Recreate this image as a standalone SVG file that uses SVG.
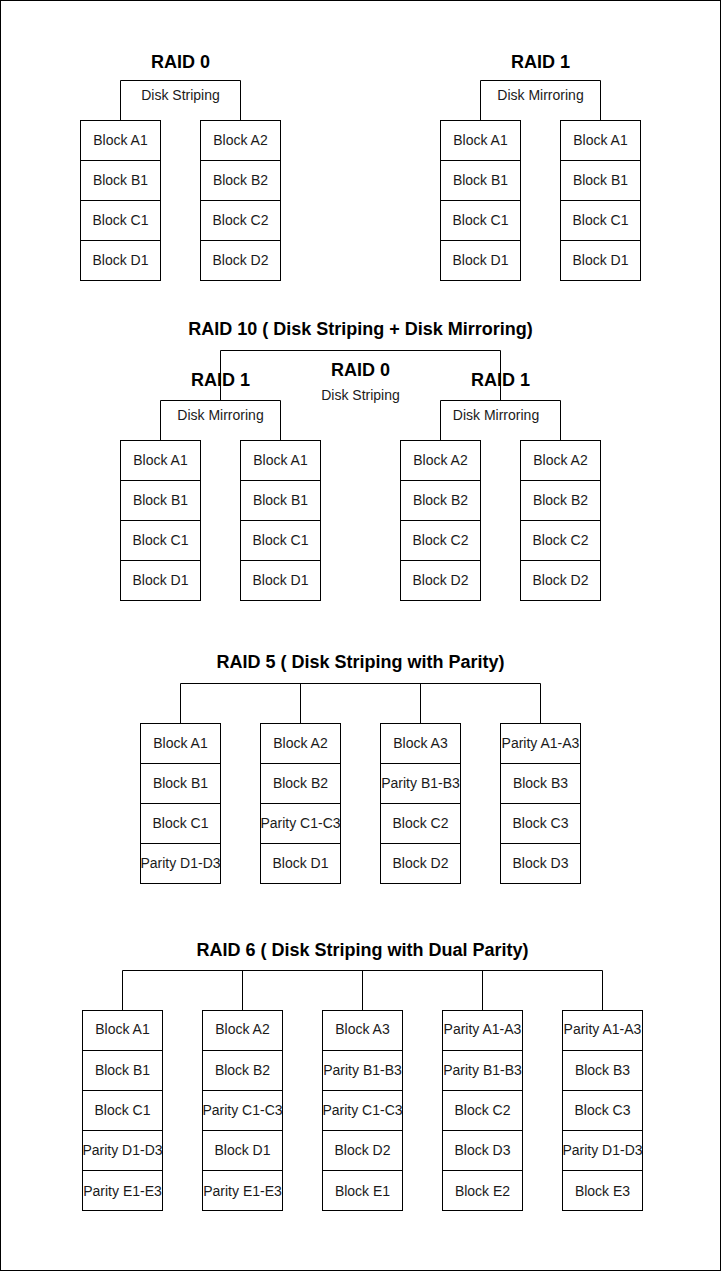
<svg xmlns="http://www.w3.org/2000/svg" width="721" height="1271" viewBox="0 0 721 1271">
<style>
.c{fill:#fff;stroke:#000;stroke-width:1}
.o{fill:none;stroke:#000;stroke-width:1}
.t{font-family:"Liberation Sans",Arial,sans-serif;font-size:14px;fill:#1a1a1a;text-anchor:middle;dominant-baseline:central}
.h{font-family:"Liberation Sans",Arial,sans-serif;font-size:18px;font-weight:bold;fill:#000;text-anchor:middle;dominant-baseline:central}
</style>
<rect x="0.5" y="0.5" width="720" height="1270" fill="#fff" stroke="#000"/>

<g id="connectors">
<path class="o" d="M180.5 723.5V683.5H540.5V723.5M300.5 683.5V723.5M420.5 683.5V723.5"/>
<path class="o" d="M122.5 1010.5V970.5H602.5V1010.5M242.5 970.5V1010.5M362.5 970.5V1010.5M482.5 970.5V1010.5"/>
</g>

<!-- RAID 0 -->
<g id="raid0-title"><text class="h" x="180.5" y="62">RAID 0</text></g>
<g id="raid0-striping"><path class="o" d="M120.5 120.5V80.5H240.5V120.5"/><text class="t" x="180.5" y="95">Disk Striping</text></g>
<g id="raid0-disk1">
<rect class="c" x="80.5" y="120.5" width="80" height="40"/><rect class="c" x="80.5" y="160.5" width="80" height="40"/><rect class="c" x="80.5" y="200.5" width="80" height="40"/><rect class="c" x="80.5" y="240.5" width="80" height="40"/>
<text class="t" x="120.5" y="140">Block A1</text><text class="t" x="120.5" y="180">Block B1</text><text class="t" x="120.5" y="220">Block C1</text><text class="t" x="120.5" y="260">Block D1</text>
</g>
<g id="raid0-disk2">
<rect class="c" x="200.5" y="120.5" width="80" height="40"/><rect class="c" x="200.5" y="160.5" width="80" height="40"/><rect class="c" x="200.5" y="200.5" width="80" height="40"/><rect class="c" x="200.5" y="240.5" width="80" height="40"/>
<text class="t" x="240.5" y="140">Block A2</text><text class="t" x="240.5" y="180">Block B2</text><text class="t" x="240.5" y="220">Block C2</text><text class="t" x="240.5" y="260">Block D2</text>
</g>

<!-- RAID 1 -->
<g id="raid1-title"><text class="h" x="540.5" y="62">RAID 1</text></g>
<g id="raid1-mirroring"><path class="o" d="M480.5 120.5V80.5H600.5V120.5"/><text class="t" x="540.5" y="95">Disk Mirroring</text></g>
<g id="raid1-disk1">
<rect class="c" x="440.5" y="120.5" width="80" height="40"/><rect class="c" x="440.5" y="160.5" width="80" height="40"/><rect class="c" x="440.5" y="200.5" width="80" height="40"/><rect class="c" x="440.5" y="240.5" width="80" height="40"/>
<text class="t" x="480.5" y="140">Block A1</text><text class="t" x="480.5" y="180">Block B1</text><text class="t" x="480.5" y="220">Block C1</text><text class="t" x="480.5" y="260">Block D1</text>
</g>
<g id="raid1-disk2">
<rect class="c" x="560.5" y="120.5" width="80" height="40"/><rect class="c" x="560.5" y="160.5" width="80" height="40"/><rect class="c" x="560.5" y="200.5" width="80" height="40"/><rect class="c" x="560.5" y="240.5" width="80" height="40"/>
<text class="t" x="600.5" y="140">Block A1</text><text class="t" x="600.5" y="180">Block B1</text><text class="t" x="600.5" y="220">Block C1</text><text class="t" x="600.5" y="260">Block D1</text>
</g>

<!-- RAID 10 -->
<g id="raid10-title"><text class="h" x="360.5" y="329">RAID 10 ( Disk Striping + Disk Mirroring)</text></g>
<g id="raid10-striping"><path class="o" d="M220.5 400.5V350.5H500.5V400.5"/><text class="h" x="360.5" y="370">RAID 0</text><text class="t" x="360.5" y="395">Disk Striping</text></g>
<g id="raid10-left-title"><text class="h" x="220.5" y="380">RAID 1</text></g>
<g id="raid10-left-mirroring"><path class="o" d="M160.5 440.5V400.5H280.5V440.5"/><text class="t" x="220.5" y="415">Disk Mirroring</text></g>
<g id="raid10-disk1">
<rect class="c" x="120.5" y="440.5" width="80" height="40"/><rect class="c" x="120.5" y="480.5" width="80" height="40"/><rect class="c" x="120.5" y="520.5" width="80" height="40"/><rect class="c" x="120.5" y="560.5" width="80" height="40"/>
<text class="t" x="160.5" y="460">Block A1</text><text class="t" x="160.5" y="500">Block B1</text><text class="t" x="160.5" y="540">Block C1</text><text class="t" x="160.5" y="580">Block D1</text>
</g>
<g id="raid10-disk2">
<rect class="c" x="240.5" y="440.5" width="80" height="40"/><rect class="c" x="240.5" y="480.5" width="80" height="40"/><rect class="c" x="240.5" y="520.5" width="80" height="40"/><rect class="c" x="240.5" y="560.5" width="80" height="40"/>
<text class="t" x="280.5" y="460">Block A1</text><text class="t" x="280.5" y="500">Block B1</text><text class="t" x="280.5" y="540">Block C1</text><text class="t" x="280.5" y="580">Block D1</text>
</g>
<g id="raid10-right-title"><text class="h" x="500.5" y="380">RAID 1</text></g>
<g id="raid10-right-mirroring"><path class="o" d="M440.5 440.5V400.5H560.5V440.5"/><text class="t" x="496" y="415">Disk Mirroring</text></g>
<g id="raid10-disk3">
<rect class="c" x="400.5" y="440.5" width="80" height="40"/><rect class="c" x="400.5" y="480.5" width="80" height="40"/><rect class="c" x="400.5" y="520.5" width="80" height="40"/><rect class="c" x="400.5" y="560.5" width="80" height="40"/>
<text class="t" x="440.5" y="460">Block A2</text><text class="t" x="440.5" y="500">Block B2</text><text class="t" x="440.5" y="540">Block C2</text><text class="t" x="440.5" y="580">Block D2</text>
</g>
<g id="raid10-disk4">
<rect class="c" x="520.5" y="440.5" width="80" height="40"/><rect class="c" x="520.5" y="480.5" width="80" height="40"/><rect class="c" x="520.5" y="520.5" width="80" height="40"/><rect class="c" x="520.5" y="560.5" width="80" height="40"/>
<text class="t" x="560.5" y="460">Block A2</text><text class="t" x="560.5" y="500">Block B2</text><text class="t" x="560.5" y="540">Block C2</text><text class="t" x="560.5" y="580">Block D2</text>
</g>

<!-- RAID 5 -->
<g id="raid5-title"><text class="h" x="360.5" y="662">RAID 5 ( Disk Striping with Parity)</text></g>
<g id="raid5-disk1">
<rect class="c" x="140.5" y="723.5" width="80" height="40"/><rect class="c" x="140.5" y="763.5" width="80" height="40"/><rect class="c" x="140.5" y="803.5" width="80" height="40"/><rect class="c" x="140.5" y="843.5" width="80" height="40"/>
<text class="t" x="180.5" y="743">Block A1</text><text class="t" x="180.5" y="783">Block B1</text><text class="t" x="180.5" y="823">Block C1</text><text class="t" x="180.5" y="863">Parity D1-D3</text>
</g>
<g id="raid5-disk2">
<rect class="c" x="260.5" y="723.5" width="80" height="40"/><rect class="c" x="260.5" y="763.5" width="80" height="40"/><rect class="c" x="260.5" y="803.5" width="80" height="40"/><rect class="c" x="260.5" y="843.5" width="80" height="40"/>
<text class="t" x="300.5" y="743">Block A2</text><text class="t" x="300.5" y="783">Block B2</text><text class="t" x="300.5" y="823">Parity C1-C3</text><text class="t" x="300.5" y="863">Block D1</text>
</g>
<g id="raid5-disk3">
<rect class="c" x="380.5" y="723.5" width="80" height="40"/><rect class="c" x="380.5" y="763.5" width="80" height="40"/><rect class="c" x="380.5" y="803.5" width="80" height="40"/><rect class="c" x="380.5" y="843.5" width="80" height="40"/>
<text class="t" x="420.5" y="743">Block A3</text><text class="t" x="420.5" y="783">Parity B1-B3</text><text class="t" x="420.5" y="823">Block C2</text><text class="t" x="420.5" y="863">Block D2</text>
</g>
<g id="raid5-disk4">
<rect class="c" x="500.5" y="723.5" width="80" height="40"/><rect class="c" x="500.5" y="763.5" width="80" height="40"/><rect class="c" x="500.5" y="803.5" width="80" height="40"/><rect class="c" x="500.5" y="843.5" width="80" height="40"/>
<text class="t" x="540.5" y="743">Parity A1-A3</text><text class="t" x="540.5" y="783">Block B3</text><text class="t" x="540.5" y="823">Block C3</text><text class="t" x="540.5" y="863">Block D3</text>
</g>

<!-- RAID 6 -->
<g id="raid6-title"><text class="h" x="362.5" y="950">RAID 6 ( Disk Striping with Dual Parity)</text></g>
<g id="raid6-disk1">
<rect class="c" x="82.5" y="1010.5" width="80" height="40"/><rect class="c" x="82.5" y="1050.5" width="80" height="40"/><rect class="c" x="82.5" y="1090.5" width="80" height="40"/><rect class="c" x="82.5" y="1130.5" width="80" height="40"/><rect class="c" x="82.5" y="1170.5" width="80" height="40"/>
<text class="t" x="122.5" y="1029">Block A1</text><text class="t" x="122.5" y="1070">Block B1</text><text class="t" x="122.5" y="1110">Block C1</text><text class="t" x="122.5" y="1150">Parity D1-D3</text><text class="t" x="122.5" y="1191">Parity E1-E3</text>
</g>
<g id="raid6-disk2">
<rect class="c" x="202.5" y="1010.5" width="80" height="40"/><rect class="c" x="202.5" y="1050.5" width="80" height="40"/><rect class="c" x="202.5" y="1090.5" width="80" height="40"/><rect class="c" x="202.5" y="1130.5" width="80" height="40"/><rect class="c" x="202.5" y="1170.5" width="80" height="40"/>
<text class="t" x="242.5" y="1029">Block A2</text><text class="t" x="242.5" y="1070">Block B2</text><text class="t" x="242.5" y="1110">Parity C1-C3</text><text class="t" x="242.5" y="1150">Block D1</text><text class="t" x="242.5" y="1191">Parity E1-E3</text>
</g>
<g id="raid6-disk3">
<rect class="c" x="322.5" y="1010.5" width="80" height="40"/><rect class="c" x="322.5" y="1050.5" width="80" height="40"/><rect class="c" x="322.5" y="1090.5" width="80" height="40"/><rect class="c" x="322.5" y="1130.5" width="80" height="40"/><rect class="c" x="322.5" y="1170.5" width="80" height="40"/>
<text class="t" x="362.5" y="1029">Block A3</text><text class="t" x="362.5" y="1070">Parity B1-B3</text><text class="t" x="362.5" y="1110">Parity C1-C3</text><text class="t" x="362.5" y="1150">Block D2</text><text class="t" x="362.5" y="1191">Block E1</text>
</g>
<g id="raid6-disk4">
<rect class="c" x="442.5" y="1010.5" width="80" height="40"/><rect class="c" x="442.5" y="1050.5" width="80" height="40"/><rect class="c" x="442.5" y="1090.5" width="80" height="40"/><rect class="c" x="442.5" y="1130.5" width="80" height="40"/><rect class="c" x="442.5" y="1170.5" width="80" height="40"/>
<text class="t" x="482.5" y="1029">Parity A1-A3</text><text class="t" x="482.5" y="1070">Parity B1-B3</text><text class="t" x="482.5" y="1110">Block C2</text><text class="t" x="482.5" y="1150">Block D3</text><text class="t" x="482.5" y="1191">Block E2</text>
</g>
<g id="raid6-disk5">
<rect class="c" x="562.5" y="1010.5" width="80" height="40"/><rect class="c" x="562.5" y="1050.5" width="80" height="40"/><rect class="c" x="562.5" y="1090.5" width="80" height="40"/><rect class="c" x="562.5" y="1130.5" width="80" height="40"/><rect class="c" x="562.5" y="1170.5" width="80" height="40"/>
<text class="t" x="602.5" y="1029">Parity A1-A3</text><text class="t" x="602.5" y="1070">Block B3</text><text class="t" x="602.5" y="1110">Block C3</text><text class="t" x="602.5" y="1150">Parity D1-D3</text><text class="t" x="602.5" y="1191">Block E3</text>
</g>
</svg>
